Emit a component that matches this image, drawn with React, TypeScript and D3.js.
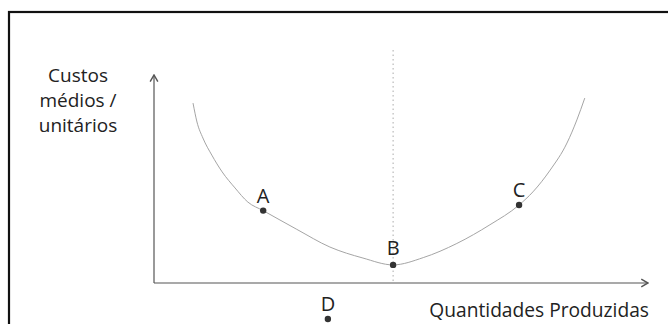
import React from "react";
import * as d3 from "d3";

// average cost curve (quantity, cost in arbitrary units)
const curveQty = [0.79, 0.87, 0.99, 1.17, 1.38, 1.64, 1.9, 2.21, 2.89, 3.56, 4.23, 4.84, 5.45, 6.13, 6.8, 7.39, 7.67, 8.02, 8.36, 8.56, 8.72];
const curveCost = [8.65, 7.74, 6.97, 6.15, 5.34, 4.57, 3.89, 3.48, 2.58, 1.73, 1.2, 0.87, 1.22, 1.9, 2.8, 3.75, 4.38, 5.43, 6.73, 7.84, 8.89];

const pointLabels = ["A", "B", "C", "D"];
const pointQty = [2.21, 4.84, 7.39, 3.52];
const pointCost = [3.48, 0.87, 3.75, -1.73];

const minQty = 4.84;
const yTitle = ["Custos", "médios /", "unitários"];
const xTitle = "Quantidades Produzidas";

const width = 668;
const height = 324;
const font = "'Open Sans', sans-serif";

const App = () => {
  const x = d3.scaleLinear().domain([0, 10]).range([154, 648]);
  const y = d3.scaleLinear().domain([0, 10]).range([283, 75]);

  const curve = curveQty.map((q, i) => [q, curveCost[i]] as [number, number]);
  const line = d3
    .line<[number, number]>()
    .x((d) => x(d[0]))
    .y((d) => y(d[1]))
    .curve(d3.curveMonotoneX);

  const axisColor = "#555";

  return (
    <svg
      width={width}
      height={height}
      style={{ position: "absolute", left: 0, top: 0, background: "#fff" }}
    >
      <defs>
        <marker id="arr" viewBox="0 0 10 10" refX="9" refY="5" markerWidth="8" markerHeight="8" orient="auto">
          <path d="M2,1 L9,5 L2,9" fill="none" stroke={axisColor} strokeWidth="1.5" />
        </marker>
      </defs>

      {/* frame */}
      <rect x={9} y={12} width={720} height={400} fill="none" stroke="#111" strokeWidth={2.2} />

      {/* vertical dotted guide at minimum */}
      <line
        x1={x(minQty)}
        x2={x(minQty)}
        y1={y(11.2)}
        y2={y(0)}
        stroke="#aaa"
        strokeWidth={1}
        strokeDasharray="1.5 3"
      />

      {/* axes */}
      <line x1={x(0)} y1={y(0)} x2={x(0)} y2={y(10)} stroke={axisColor} strokeWidth={1.2} markerEnd="url(#arr)" />
      <line x1={x(0)} y1={y(0)} x2={x(10)} y2={y(0)} stroke={axisColor} strokeWidth={1.2} markerEnd="url(#arr)" />

      {/* cost curve */}
      <path d={line(curve) || ""} fill="none" stroke="#a5a5a5" strokeWidth={1} />

      {/* points */}
      {pointLabels.map((lab, i) => (
        <g key={lab}>
          <circle cx={x(pointQty[i])} cy={y(pointCost[i])} r={3.2} fill="#333" />
          <text
            x={x(pointQty[i])}
            y={y(pointCost[i]) - (lab === "B" ? 10 : 8)}
            textAnchor="middle"
            fontFamily={font}
            fontSize={20}
            fill="#222"
          >
            {lab}
          </text>
        </g>
      ))}

      {/* axis titles */}
      {yTitle.map((t, i) => (
        <text key={t} x={78} y={82 + i * 25} textAnchor="middle" fontFamily={font} fontSize={19} fill="#222">
          {t}
        </text>
      ))}
      <text x={649} y={317} textAnchor="end" fontFamily={font} fontSize={19.2} fill="#222">
        {xTitle}
      </text>
    </svg>
  );
};

export default App;
